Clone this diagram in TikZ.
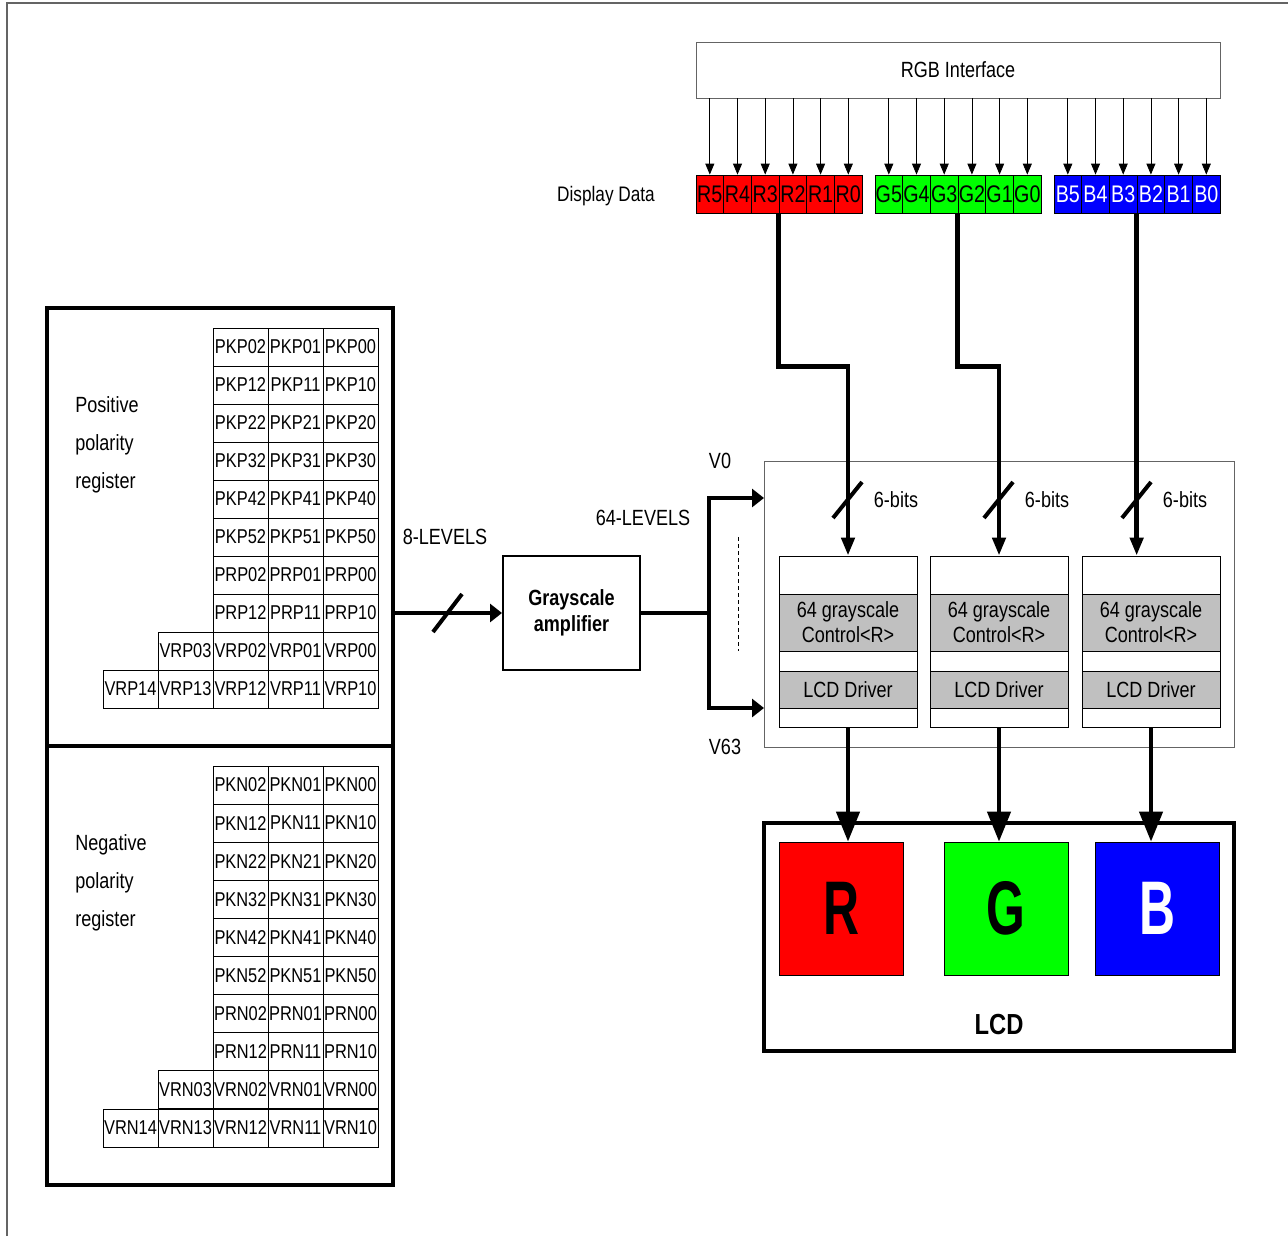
\documentclass[tikz,border=0pt]{standalone}
\usepackage{fontspec}
\setmainfont{Liberation Sans}[FakeStretch=0.82]
\usetikzlibrary{arrows.meta}
\definecolor{pgreen}{RGB}{0,255,0}
\definecolor{pblue}{RGB}{0,0,255}
\definecolor{lgray}{RGB}{192,192,192}
\definecolor{fgray}{RGB}{100,100,100}

\begin{document}
\begin{tikzpicture}[
		x=0.5pt, y=-0.5pt,
		every node/.style={font=\fontsize{11}{13}\selectfont, inner sep=0pt},
		cell/.style={draw, minimum width=27.5pt, minimum height=19pt, font=\fontsize{10}{12}\selectfont},
		bit/.style={draw, minimum width=13.85pt, minimum height=19pt, font=\fontsize{12}{14}\selectfont},
		reg/.style={draw, line width=2pt, minimum width=173pt, minimum height=219pt},
		ctl/.style={draw, minimum width=69pt, minimum height=85.5pt},
		sec/.style={draw, fill=lgray, minimum width=69pt, align=center, font=\fontsize{11}{12.5}\selectfont},
		sq/.style={draw, minimum width=62pt, minimum height=66.5pt, font=\fontsize{38}{40}\selectfont\bfseries},
		bus/.style={line width=2.2pt},
		slash/.style={line width=2pt},
		tip_s/.style={-{Triangle[length=5.5pt, width=4.5pt]}},
		tip_m/.style={-{Triangle[length=6pt, width=9pt]}},
		tip_b/.style={-{Triangle[length=9pt, width=6.5pt]}},
		tip_l/.style={-{Triangle[length=15pt, width=11.5pt]}}
	]
  \useasboundingbox (0,0) rectangle (1288,1236);
  \draw[fgray, line width=0.7pt] (7,1236) -- (7,3) -- (1288,3);

  % RGB interface and display data
  \node[draw=fgray, minimum width=262pt, minimum height=28pt] (rgb) at (958,70) {RGB Interface};
  \node (disp) [font=\fontsize{10.5}{12}\selectfont] at (606,196) {Display Data};
  \foreach \b [count=\j from 0] in {5,4,3,2,1,0} {
    \node[bit, fill=red] (R\b) at ({709.8+27.7*\j},194) {R\b};
    \node[bit, fill=pgreen] (G\b) at ({888.8+27.7*\j},194) {G\b};
    \node[bit, fill=pblue, text=white] (B\b) at ({1067.8+27.7*\j},194) {B\b};
    \draw[tip_s] (R\b.north |- rgb.south) -- (R\b.north);
    \draw[tip_s] (G\b.north |- rgb.south) -- (G\b.north);
    \draw[tip_s] (B\b.north |- rgb.south) -- (B\b.north);
  }

  % registers
  \node[reg] (pos_reg) at (220,527) {};
  \node[reg, minimum height=219.5pt] (neg_reg) at (220,965.5) {};
  \node (pos_lbl) [align=left, anchor=west, font=\fontsize{11}{19}\selectfont] at (75,445) {Positive\\polarity\\register};
  \node (neg_lbl) [align=left, anchor=west, font=\fontsize{11}{19}\selectfont] at (75,883) {Negative\\polarity\\register};
  \foreach \p [count=\i from 0] in {PKP0,PKP1,PKP2,PKP3,PKP4,PKP5,PRP0,PRP1} {
    \foreach \c [count=\j from 0] in {2,1,0}
      \node[cell] (\p\c) at ({240.5+55*\j},{347+38*\i}) {\p\c};
  }
  \foreach \c [count=\j from 0] in {3,2,1,0}
    \node[cell] (VRP0\c) at ({185.5+55*\j},651) {VRP0\c};
  \foreach \c [count=\j from 0] in {4,3,2,1,0}
    \node[cell] (VRP1\c) at ({130.5+55*\j},689) {VRP1\c};
  \foreach \p [count=\i from 0] in {PKN0,PKN1,PKN2,PKN3,PKN4,PKN5,PRN0,PRN1} {
    \foreach \c [count=\j from 0] in {2,1,0}
      \node[cell] (\p\c) at ({240.5+55*\j},{785+38.1*\i}) {\p\c};
  }
  \foreach \c [count=\j from 0] in {3,2,1,0}
    \node[cell] (VRN0\c) at ({185.5+55*\j},1089.8) {VRN0\c};
  \foreach \c [count=\j from 0] in {4,3,2,1,0}
    \node[cell] (VRN1\c) at ({130.5+55*\j},1127.9) {VRN1\c};

  % grayscale amplifier
  \node[draw, line width=1pt, minimum width=68.5pt, minimum height=57pt, align=center,
        font=\fontsize{11}{13}\selectfont\bfseries] (amp) at (571.5,613) {\raisebox{1.5pt}{Grayscale}\\\raisebox{1.5pt}{amplifier}};
  \draw[bus, tip_m] (pos_reg.east |- amp.west) -- (amp.west);
  \draw[slash] (433,632) -- (462,594);
  \node (lv8) at (445,537) {8-LEVELS};

  \coordinate (split) at (709,613);
  \coordinate (v0_in) at (764,498);
  \coordinate (v63_in) at (764,708);
  \draw[bus] (amp.east) -- (split);
  \draw[bus, tip_m] (split) |- (v0_in);
  \draw[bus, tip_m] (split) |- (v63_in);
  \draw[dash pattern=on 2pt off 1.5pt] (738,537) -- (738,651);
  \node (lv64) at (643,518) {64-LEVELS};
  \node (v0) at (720,461) {V0};
  \node (v63) at (725,747) {V63};

  % grayscale control and drivers
  \node[draw=fgray, minimum width=235pt, minimum height=143pt] (group) at (999,604) {};
  \foreach \k/\x in {1/848, 2/999, 3/1151} {
    \node[ctl] (ctl\k) at (\x,641.5) {};
    \node[sec, minimum height=28.5pt] (gs\k) at (\x,622.5) {64 grayscale\\Control<R>};
    \node[sec, minimum height=18.5pt] (drv\k) at (\x,689.5) {LCD Driver};
  }
  \draw[bus, tip_b] (R2.south west) -- ++(0,153) -| (ctl1.north);
  \draw[bus, tip_b] (G2.south west) -- ++(0,153) -| (ctl2.north);
  \draw[bus, tip_b] (B2.south west) -- (B2.south west |- ctl3.north);
  \foreach \x in {848,999,1137} {
    \draw[slash] ({\x-15},518) -- ({\x+14},482);
    \node at ({\x+48},500) {6-bits};
  }

  % LCD
  \node[draw, line width=2pt, minimum width=235pt, minimum height=114pt] (lcd) at (999,937) {};
  \node[sq, fill=red] (sq_r) at (841,908.5) {\scalebox{0.8}[1]{R}};
  \node[sq, fill=pgreen] (sq_g) at (1006,908.5) {\scalebox{0.8}[1]{G}};
  \node[sq, fill=pblue, text=white] (sq_b) at (1157.5,908.5) {\scalebox{0.8}[1]{B}};
  \draw[bus, tip_l] (ctl1.south) -- (ctl1.south |- sq_r.north);
  \draw[bus, tip_l] (ctl2.south) -- (ctl2.south |- sq_g.north);
  \draw[bus, tip_l] (ctl3.south) -- (ctl3.south |- sq_b.north);
  \node (lcd_lbl) [font=\fontsize{14.5}{16}\selectfont\bfseries] at (999,1024) {LCD};
\end{tikzpicture}
\end{document}
